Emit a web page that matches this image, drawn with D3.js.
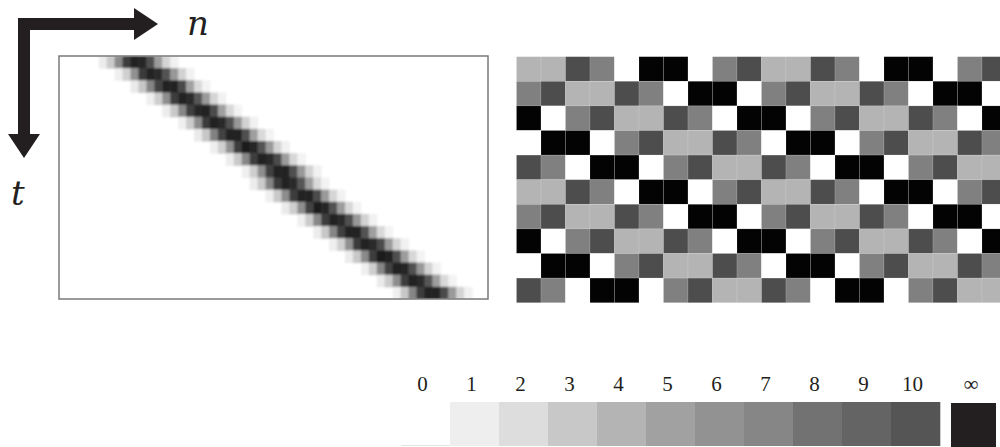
<!DOCTYPE html>
<html>
<head>
<meta charset="utf-8">
<script src="https://cdn.jsdelivr.net/npm/d3@7"></script>
<style>
  html, body { margin: 0; padding: 0; background: #fff; overflow: hidden; }
  svg { display: block; }
</style>
</head>
<body>
<svg id="chart" width="1000" height="447"></svg>
<script>
// ---------- DATA ----------
// Left panel: soft alignment band, t rows x n columns
const bandCols = 54;
const bandStart = [5, 7, 9, 11, 13, 15, 17, 19, 21, 23, 24, 26, 28, 30, 32, 34, 36, 38, 40, 42];
const bandRows = [
  [0.08, 0.22, 0.50, 0.82, 0.93, 0.92, 0.75, 0.42, 0.18, 0.06],
  [0.07, 0.20, 0.47, 0.84, 0.95, 0.90, 0.73, 0.44, 0.19, 0.06],
  [0.09, 0.24, 0.52, 0.80, 0.93, 0.94, 0.77, 0.40, 0.16, 0.05],
  [0.07, 0.21, 0.48, 0.83, 0.95, 0.91, 0.72, 0.43, 0.18, 0.06],
  [0.08, 0.23, 0.51, 0.81, 0.92, 0.95, 0.76, 0.41, 0.17, 0.05],
  [0.07, 0.22, 0.49, 0.84, 0.95, 0.90, 0.74, 0.44, 0.19, 0.06],
  [0.09, 0.24, 0.53, 0.80, 0.93, 0.93, 0.75, 0.41, 0.16, 0.05],
  [0.07, 0.20, 0.47, 0.82, 0.96, 0.92, 0.73, 0.43, 0.18, 0.06],
  [0.08, 0.23, 0.51, 0.83, 0.94, 0.91, 0.76, 0.42, 0.17, 0.05],
  [0.07, 0.21, 0.48, 0.81, 0.93, 0.94, 0.75, 0.44, 0.19, 0.06],
  [0.08, 0.22, 0.52, 0.84, 0.95, 0.90, 0.72, 0.41, 0.16, 0.05],
  [0.07, 0.23, 0.49, 0.82, 0.94, 0.93, 0.76, 0.43, 0.18, 0.06],
  [0.09, 0.21, 0.48, 0.80, 0.96, 0.92, 0.74, 0.42, 0.17, 0.05],
  [0.07, 0.22, 0.51, 0.83, 0.93, 0.91, 0.75, 0.44, 0.19, 0.06],
  [0.08, 0.24, 0.52, 0.81, 0.95, 0.94, 0.73, 0.41, 0.16, 0.05],
  [0.07, 0.20, 0.47, 0.84, 0.94, 0.90, 0.76, 0.43, 0.18, 0.06],
  [0.08, 0.23, 0.50, 0.82, 0.96, 0.93, 0.75, 0.42, 0.17, 0.05],
  [0.07, 0.21, 0.51, 0.80, 0.93, 0.92, 0.74, 0.44, 0.19, 0.06],
  [0.09, 0.22, 0.48, 0.83, 0.95, 0.91, 0.72, 0.41, 0.16, 0.05],
  [0.07, 0.24, 0.52, 0.82, 0.94, 0.94, 0.76, 0.43, 0.18, 0.06]
];

// Right panel: distance-coded checker pattern (W=0, L, M, D, B=black)
const checkRows = [
  ["L","L","D","M","W","B","B","W","M","D","L","L","D","M","W","B","B","W","M","D"],
  ["M","D","L","L","D","M","W","B","B","W","M","D","L","L","D","M","W","B","B","W"],
  ["B","W","M","D","L","L","D","M","W","B","B","W","M","D","L","L","D","M","W","B"],
  ["W","B","B","W","M","D","L","L","D","M","W","B","B","W","M","D","L","L","D","M"],
  ["D","M","W","B","B","W","M","D","L","L","D","M","W","B","B","W","M","D","L","L"],
  ["L","L","D","M","W","B","B","W","M","D","L","L","D","M","W","B","B","W","M","D"],
  ["M","D","L","L","D","M","W","B","B","W","M","D","L","L","D","M","W","B","B","W"],
  ["B","W","M","D","L","L","D","M","W","B","B","W","M","D","L","L","D","M","W","B"],
  ["W","B","B","W","M","D","L","L","D","M","W","B","B","W","M","D","L","L","D","M"],
  ["D","M","W","B","B","W","M","D","L","L","D","M","W","B","B","W","M","D","L","L"]
];
const checkCodes = ["W", "L", "M", "D", "B"];
const checkColors = ["#ffffff", "#b4b4b4", "#808080", "#4d4d4d", "#030303"];

// Legend
const legendLabels = ["0","1","2","3","4","5","6","7","8","9","10","\u221E"];
const legendColors = ["#ffffff","#eeeeee","#dddddd","#c8c8c8","#b4b4b4","#a1a1a1",
                      "#929292","#868686","#727272","#646464","#555555","#231f20"];

// ---------- DRAW ----------
const svg = d3.select("#chart");
const defs = svg.append("defs");

// Arrows (axes indicators)
const arrowColor = "#231f20";
svg.append("path")
  .attr("d", "M18,18 H134 V8 L158,24 L134,40 V30 H30 V134 H40 L24,158 L8,134 H18 Z")
  .attr("fill", arrowColor);
svg.append("text").attr("x", 187).attr("y", 35)
  .attr("font-family", "DejaVu Serif, serif").attr("font-style", "italic")
  .attr("font-size", 34).attr("fill", "#231f20").text("n");
svg.append("text").attr("x", 11).attr("y", 205)
  .attr("font-family", "DejaVu Serif, serif").attr("font-style", "italic")
  .attr("font-size", 34).attr("fill", "#231f20").text("t");

// Left panel
const L = { x: 59, y: 56, w: 429, h: 243 };
const bx = d3.scaleBand().domain(d3.range(bandCols)).range([L.x, L.x + L.w]).padding(0);
const by = d3.scaleBand().domain(d3.range(bandRows.length)).range([L.y, L.y + L.h]).padding(0);
const bandColor = d3.scaleLinear().domain([0, 1]).range(["#ffffff", "#141414"]).interpolate(d3.interpolateRgb);

defs.append("clipPath").attr("id", "leftClip")
  .append("rect").attr("x", L.x).attr("y", L.y).attr("width", L.w).attr("height", L.h);
defs.append("filter").attr("id", "soft").attr("x", "-5%").attr("y", "-5%").attr("width", "110%").attr("height", "110%")
  .append("feGaussianBlur").attr("stdDeviation", "1.1 1.0");

const cells = [];
bandRows.forEach((row, t) => {
  row.forEach((v, k) => {
    const n = bandStart[t] + k;
    if (n >= 0 && n < bandCols) cells.push({ t, n, v });
  });
});

svg.append("rect").attr("x", L.x).attr("y", L.y).attr("width", L.w).attr("height", L.h).attr("fill", "#fff");
svg.append("g").attr("clip-path", "url(#leftClip)")
  .append("g").attr("filter", "url(#soft)")
  .selectAll("rect").data(cells).join("rect")
  .attr("x", d => bx(d.n)).attr("y", d => by(d.t))
  .attr("width", bx.bandwidth() + 0.5).attr("height", by.bandwidth() + 0.5)
  .attr("fill", d => bandColor(d.v));
svg.append("rect").attr("x", L.x).attr("y", L.y).attr("width", L.w).attr("height", L.h)
  .attr("fill", "none").attr("stroke", "#7a7a7a").attr("stroke-width", 1.5);

// Right panel
const R = { x: 516.5, y: 56.7, cw: 24.5, rh: 24.6 };
const nCheckCols = checkRows[0].length;
const cx = d3.scaleBand().domain(d3.range(nCheckCols)).range([R.x, R.x + R.cw * nCheckCols]).padding(0);
const cy = d3.scaleBand().domain(d3.range(checkRows.length)).range([R.y, R.y + R.rh * checkRows.length]).padding(0);
const checkColor = d3.scaleOrdinal().domain(checkCodes).range(checkColors);
const checkCells = [];
checkRows.forEach((row, r) => row.forEach((c, k) => checkCells.push({ r, k, c })));
svg.append("g").selectAll("rect").data(checkCells).join("rect")
  .attr("x", d => cx(d.k)).attr("y", d => cy(d.r))
  .attr("width", cx.bandwidth()).attr("height", cy.bandwidth())
  .attr("fill", d => checkColor(d.c))
  .attr("stroke", "#ffffff").attr("stroke-opacity", 0.18).attr("stroke-width", 0.7);

// Legend
const legendX = d3.scaleBand().domain(legendLabels.slice(0, 11)).range([401, 940]).padding(0);
const lg = svg.append("g");
lg.selectAll("rect.sw").data(legendLabels.slice(0, 11)).join("rect")
  .attr("class", "sw")
  .attr("x", d => legendX(d)).attr("y", 402)
  .attr("width", legendX.bandwidth() + 0.3).attr("height", 44)
  .attr("fill", (d, i) => legendColors[i]);
// faint outline under white swatch
lg.append("line").attr("x1", legendX("0")).attr("x2", legendX("0") + legendX.bandwidth())
  .attr("y1", 445.5).attr("y2", 445.5).attr("stroke", "#e4e4e4").attr("stroke-width", 1);
lg.append("rect").attr("x", 951).attr("y", 403).attr("width", 45).attr("height", 44)
  .attr("fill", legendColors[11]);

const labelX = d => (d === "\u221E" ? 971 : legendX(d) + legendX.bandwidth() / 2 - 3);
lg.selectAll("text").data(legendLabels).join("text")
  .attr("x", labelX).attr("y", 391)
  .attr("text-anchor", "middle")
  .attr("font-family", "Liberation Serif, serif")
  .attr("font-size", 21).attr("fill", "#231f20")
  .text(d => d);
</script>
</body>
</html>
